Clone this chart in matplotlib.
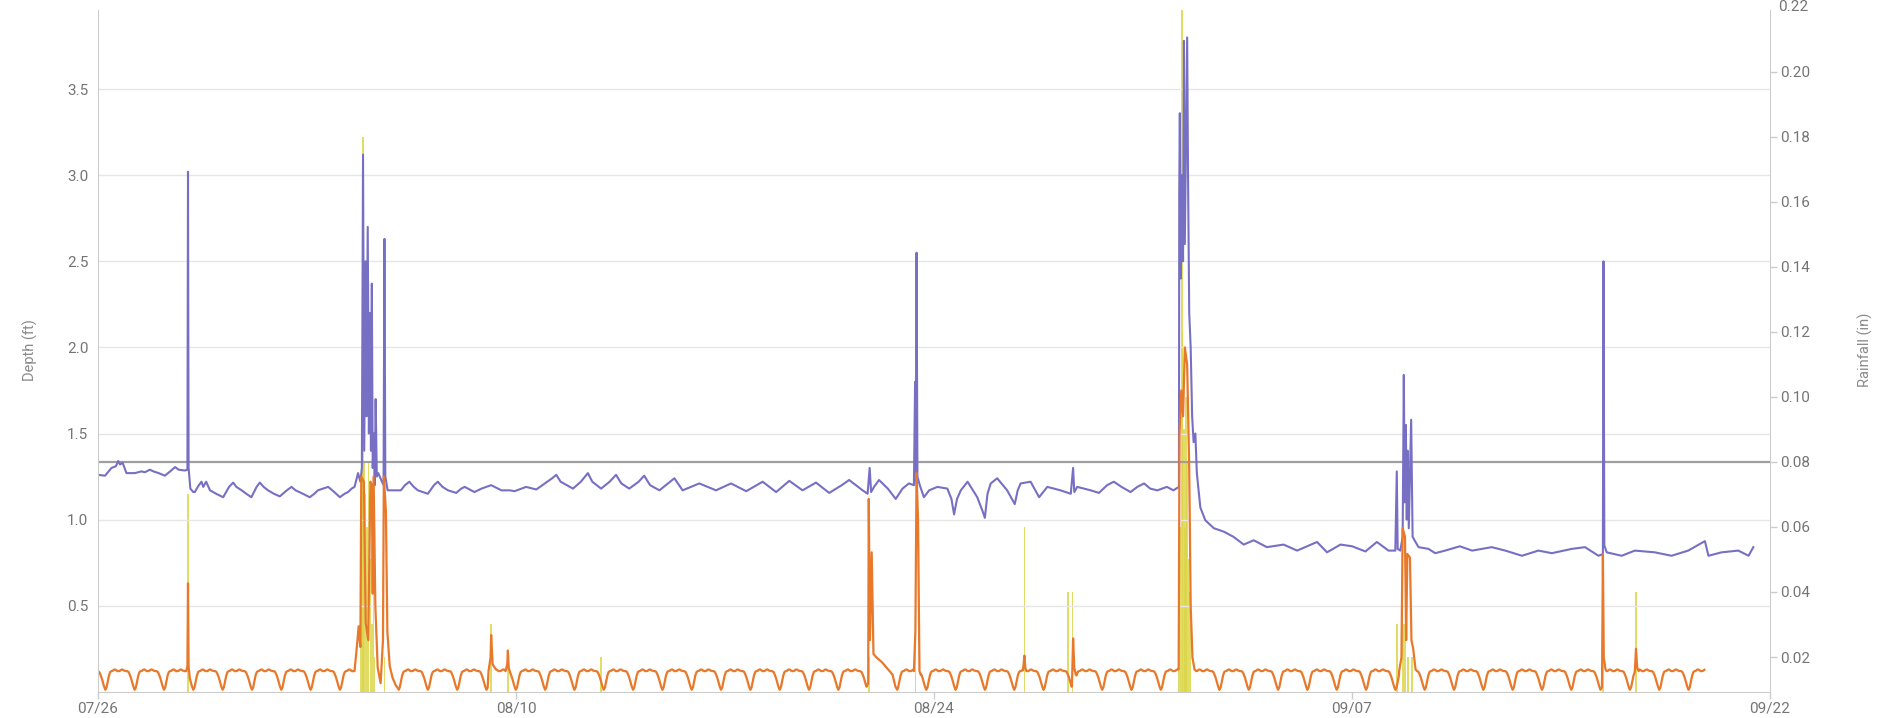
import numpy as np
import matplotlib
matplotlib.use("Agg")
import matplotlib.pyplot as plt

plt.rcParams['font.family'] = ['Roboto', 'DejaVu Sans']

# x axis: days since 07/26 00:00
span_days = 57.03
date_labels = ['07/26', '08/10', '08/24', '09/07', '09/22']

# depth at the monitor (ft)
purple_day = [0.00, 0.24, 0.46, 0.61, 0.69, 0.75, 0.84, 0.97, 1.26, 1.48, 1.60, 1.77, 1.89, 2.07,
              2.28, 2.46, 2.63, 2.75, 2.96, 3.05, 3.07, 3.09, 3.15, 3.25, 3.30, 3.44, 3.53, 3.59,
              3.69, 3.82, 4.03, 4.27, 4.47, 4.61, 4.72, 4.90, 5.06, 5.23, 5.41, 5.52, 5.65, 5.80,
              6.00, 6.20, 6.44, 6.60, 6.74, 6.99, 7.22, 7.38, 7.50, 7.67, 7.85, 8.06, 8.25, 8.41,
              8.53, 8.65, 8.75, 8.87, 8.95, 9.00, 9.04, 9.08, 9.13, 9.16, 9.20, 9.24, 9.28, 9.31,
              9.34, 9.37, 9.41, 9.44, 9.47, 9.51, 9.56, 9.66, 9.74, 9.77, 9.80, 9.88, 10.13, 10.33,
              10.47, 10.62, 10.77, 10.91, 11.25, 11.46, 11.59, 11.75, 11.94, 12.22, 12.39, 12.51,
              12.84, 13.08, 13.41, 13.76, 14.04, 14.21, 14.60, 14.95, 15.24, 15.49, 15.63, 15.78,
              16.20, 16.47, 16.71, 16.86, 17.16, 17.45, 17.67, 17.85, 18.12, 18.44, 18.63, 18.83,
              19.15, 19.66, 19.94, 20.51, 21.08, 21.59, 22.11, 22.67, 23.13, 23.58, 24.03, 24.49,
              24.94, 25.37, 25.62, 26.08, 26.25, 26.32, 26.37, 26.47, 26.64, 26.94, 27.21, 27.44,
              27.66, 27.83, 27.87, 27.89, 27.92, 27.95, 28.03, 28.17, 28.35, 28.63, 28.97, 29.11,
              29.20, 29.30, 29.43, 29.66, 29.99, 30.17, 30.25, 30.34, 30.45, 30.67, 31.01, 31.17,
              31.27, 31.37, 31.47, 31.81, 32.10, 32.38, 32.83, 33.18, 33.26, 33.30, 33.40, 33.86,
              34.14, 34.42, 34.65, 34.91, 35.22, 35.45, 35.68, 35.89, 36.13, 36.46, 36.68, 36.87,
              36.88, 36.90, 36.93, 36.97, 37.01, 37.04, 37.07, 37.11, 37.15, 37.18, 37.22, 37.27,
              37.32, 37.37, 37.43, 37.48, 37.60, 37.77, 38.06, 38.40, 38.73, 39.08, 39.42, 39.87,
              40.44, 40.90, 41.58, 41.92, 42.38, 42.78, 43.23, 43.62, 44.02, 44.25, 44.30, 44.33,
              44.42, 44.50, 44.54, 44.57, 44.61, 44.64, 44.67, 44.71, 44.79, 44.84, 45.04, 45.38,
              45.61, 45.95, 46.45, 46.87, 47.54, 48.00, 48.57, 49.13, 49.59, 50.27, 50.72, 51.18,
              51.33, 51.35, 51.38, 51.46, 51.97, 52.42, 53.10, 53.67, 54.24, 54.81, 54.93, 55.38,
              55.95, 56.30, 56.46]
purple_ft = [1.26, 1.255, 1.30, 1.31, 1.34, 1.32, 1.33, 1.27, 1.27, 1.28, 1.275, 1.29, 1.28, 1.27,
             1.255, 1.28, 1.305, 1.29, 1.285, 1.29, 3.02, 1.30, 1.18, 1.16, 1.16, 1.20, 1.22, 1.19,
             1.22, 1.17, 1.15, 1.13, 1.19, 1.215, 1.19, 1.17, 1.15, 1.13, 1.19, 1.215, 1.19, 1.17,
             1.15, 1.135, 1.17, 1.19, 1.17, 1.15, 1.13, 1.15, 1.17, 1.18, 1.19, 1.16, 1.13, 1.15,
             1.16, 1.18, 1.19, 1.27, 1.22, 1.30, 3.12, 1.40, 2.50, 1.60, 2.70, 1.50, 2.20, 1.40,
             2.37, 1.30, 1.50, 1.20, 1.70, 1.25, 1.27, 1.23, 1.20, 2.63, 1.25, 1.17, 1.17, 1.17,
             1.20, 1.22, 1.19, 1.17, 1.15, 1.20, 1.22, 1.19, 1.17, 1.155, 1.18, 1.19,
             1.16, 1.18, 1.20, 1.17, 1.17, 1.165, 1.19, 1.175, 1.21, 1.24, 1.26, 1.22,
             1.18, 1.22, 1.27, 1.22, 1.18, 1.22, 1.26, 1.21, 1.18, 1.22, 1.255, 1.20,
             1.17, 1.24, 1.17, 1.21, 1.17, 1.21, 1.165, 1.22, 1.16, 1.225, 1.17, 1.215,
             1.155, 1.20, 1.23, 1.17, 1.15, 1.30, 1.16, 1.19, 1.23, 1.18, 1.12, 1.18,
             1.21, 1.20, 1.80, 1.22, 2.55, 1.25, 1.20, 1.13, 1.17, 1.19, 1.18, 1.12,
             1.03, 1.12, 1.17, 1.22, 1.13, 1.05, 1.01, 1.15, 1.21, 1.24, 1.17, 1.12,
             1.09, 1.17, 1.21, 1.22, 1.13, 1.19, 1.17, 1.15, 1.30, 1.16, 1.19, 1.17,
             1.155, 1.20, 1.22, 1.19, 1.16, 1.19, 1.21, 1.18, 1.17, 1.19, 1.17, 1.19,
             2.90, 3.36, 2.40, 3.00, 2.50, 3.78, 2.60, 3.20, 3.80, 3.00, 2.20, 2.00,
             1.60, 1.45, 1.50, 1.27, 1.07, 0.996, 0.95, 0.93, 0.90, 0.855, 0.88, 0.84,
             0.855, 0.82, 0.87, 0.81, 0.855, 0.845, 0.815, 0.87, 0.82, 0.82, 1.28, 0.83,
             0.82, 0.90, 1.84, 1.10, 1.55, 1.00, 1.40, 0.95, 1.58, 0.90, 0.84, 0.83,
             0.805, 0.82, 0.845, 0.82, 0.84, 0.82, 0.79, 0.82, 0.805, 0.83, 0.84, 0.79,
             0.80, 2.50, 0.85, 0.81, 0.79, 0.82, 0.81, 0.79, 0.82, 0.875, 0.79, 0.81,
             0.82, 0.79, 0.84]

# second depth series: one typical day (hourly) plus storm responses
orange_hourly = [0.12, 0.115, 0.10, 0.08, 0.055, 0.03, 0.012, 0.025, 0.06, 0.095, 0.115, 0.12,
                 0.122, 0.128, 0.13, 0.125, 0.12, 0.12, 0.122, 0.128, 0.13, 0.125, 0.122, 0.12]
orange_last_day = 54.82
orange_events = [
    [(3.01, 0.12), (3.05, 0.15), (3.07, 0.63), (3.09, 0.15), (3.13, 0.08)],
    [(8.75, 0.12), (8.85, 0.30), (8.89, 0.38), (8.95, 0.26), (8.98, 1.25), (9.07, 1.22),
     (9.13, 0.40), (9.22, 0.30), (9.29, 1.22), (9.34, 1.20), (9.37, 0.57), (9.40, 1.25),
     (9.46, 0.50), (9.54, 0.14), (9.64, 0.05), (9.72, 0.30), (9.75, 1.25), (9.82, 1.05),
     (9.87, 0.35), (9.95, 0.15), (10.05, 0.08), (10.15, 0.04), (10.26, 0.012)],
    [(13.32, 0.12), (13.39, 0.20), (13.41, 0.33), (13.46, 0.16), (13.57, 0.13)],
    [(13.90, 0.12), (13.96, 0.16), (13.98, 0.24), (14.01, 0.14), (14.06, 0.11)],
    [(26.22, 0.03), (26.27, 0.05), (26.29, 1.12), (26.33, 0.30), (26.39, 0.81), (26.45, 0.22),
     (26.55, 0.20), (26.75, 0.17), (26.95, 0.13), (27.10, 0.10), (27.20, 0.03), (27.26, 0.012)],
    [(27.83, 0.12), (27.88, 0.35), (27.92, 1.27), (27.97, 1.00), (28.02, 0.12), (28.06, 0.10)],
    [(31.55, 0.125), (31.60, 0.21), (31.63, 0.14)],
    [(33.22, 0.03), (33.26, 0.31), (33.30, 0.14), (33.35, 0.10)],
    [(36.86, 0.13), (36.89, 1.50), (36.95, 1.75), (37.01, 1.60), (37.07, 2.00), (37.15, 1.90),
     (37.22, 1.30), (37.27, 0.50), (37.33, 0.20), (37.40, 0.13), (37.46, 0.12)],
    [(44.38, 0.12), (44.46, 0.20), (44.50, 0.95), (44.58, 0.90), (44.62, 0.30), (44.66, 0.80),
     (44.75, 0.78), (44.80, 0.30), (44.86, 0.25), (44.94, 0.13), (44.99, 0.12)],
    [(51.30, 0.03), (51.33, 0.80), (51.36, 0.20), (51.42, 0.13)],
    [(52.42, 0.12), (52.46, 0.25), (52.50, 0.14), (52.55, 0.12)],
]

# rainfall (in)
rain_day = [3.07, 8.95, 9.00, 9.04, 9.08, 9.13, 9.17, 9.22, 9.29, 9.34, 9.39, 9.44, 9.78,
            13.41, 13.98, 17.16, 26.29, 27.88, 31.61, 33.09, 33.23,
            36.87, 36.92, 36.97, 37.00, 37.04, 37.07, 37.11, 37.15, 37.19, 37.23, 37.27,
            44.31, 44.50, 44.54, 44.59, 44.69, 44.82, 51.33, 52.46]
rain_in = [0.07, 0.03, 0.08, 0.18, 0.08, 0.07, 0.06, 0.08, 0.05, 0.03, 0.04, 0.02, 0.02,
           0.03, 0.02, 0.02, 0.02, 0.05, 0.06, 0.04, 0.04,
           0.03, 0.06, 0.22, 0.12, 0.09, 0.06, 0.10, 0.08, 0.05, 0.04, 0.03,
           0.03, 0.04, 0.03, 0.04, 0.02, 0.02, 0.02, 0.04]

threshold_in = 0.08

# build the second depth series from the daily profile and the events
hours = np.arange(24) / 24.0
n_days = int(np.ceil(orange_last_day))
o_t = np.concatenate([d + hours for d in range(n_days)])
o_v = np.tile(orange_hourly, n_days)
keep = o_t <= orange_last_day
o_t, o_v = o_t[keep], o_v[keep]
for ev in orange_events:
    et = np.array([p[0] for p in ev])
    ev_v = np.array([p[1] for p in ev])
    keep = (o_t < et[0]) | (o_t > et[-1])
    o_t = np.concatenate([o_t[keep], et])
    o_v = np.concatenate([o_v[keep], ev_v])
    order = np.argsort(o_t)
    o_t, o_v = o_t[order], o_v[order]

purple = '#776fc4'
orange = '#e8782a'
yellow = '#dcd64b'
grey_txt = '#757575'
axis_col = '#cccccc'

fig = plt.figure(figsize=(18.8, 7.18), dpi=100)
ax = fig.add_axes([98 / 1880, 26.2 / 718, (1770 - 98) / 1880, (691.8 - 9.9) / 718])
ax2 = ax.twinx()
ax.set_zorder(ax2.get_zorder() + 1)
ax.patch.set_visible(False)

ax2.bar(rain_day, rain_in, width=0.05, color=yellow, alpha=0.85, linewidth=0)
ax2.axhline(threshold_in, color='#9e9e9e', lw=1.6)

ax.plot(purple_day, purple_ft, color=purple, lw=1.5)
ax.plot(o_t, o_v, color=orange, lw=1.6)

ax.set_xlim(0, span_days)
ax.set_ylim(0, 3.96)
ax2.set_ylim(0.0093, 0.2190)

ax.set_xticks(np.linspace(0, span_days, 5))
ax.set_xticklabels(date_labels)
ax.set_yticks([0.5, 1.0, 1.5, 2.0, 2.5, 3.0, 3.5])
ax.set_yticklabels(['0.5', '1.0', '1.5', '2.0', '2.5', '3.0', '3.5'])
r_ticks = [0.02, 0.04, 0.06, 0.08, 0.10, 0.12, 0.14, 0.16, 0.18, 0.20]
ax2.set_yticks(r_ticks)
ax2.set_yticklabels(['%.2f' % v for v in r_ticks])
# top label sits just past the plot edge
ax2.annotate('0.22', xy=(1, 0.22), xycoords=ax2.get_yaxis_transform(), xytext=(5.5, 0),
             textcoords='offset points', ha='left', va='center', fontsize=11,
             color=grey_txt, annotation_clip=False)

ax.yaxis.grid(True, color='#e6e6e6', lw=1)
ax.set_axisbelow(True)

for s in ['top', 'right']:
    ax.spines[s].set_visible(False)
for s in ['top', 'left', 'bottom']:
    ax2.spines[s].set_visible(False)
ax.spines['left'].set_color(axis_col)
ax.spines['bottom'].set_color(axis_col)
ax2.spines['right'].set_color(axis_col)

ax.tick_params(axis='y', length=0, pad=7, labelsize=11, labelcolor=grey_txt)
ax.tick_params(axis='x', length=5, width=1, color=axis_col, pad=2, labelsize=11,
               labelcolor=grey_txt)
ax2.tick_params(axis='y', length=5, width=1, color=axis_col, pad=2, labelsize=11,
                labelcolor=grey_txt)

fig.text(30 / 1880, 0.513, 'Depth (ft)', rotation=90, ha='center', va='center',
         fontsize=10.5, color='#8a8a8a')
fig.text(1865 / 1880, 0.513, 'Rainfall (in)', rotation=90, ha='center', va='center',
         fontsize=10.5, color='#8a8a8a')

fig.savefig('out.png', dpi=100)
